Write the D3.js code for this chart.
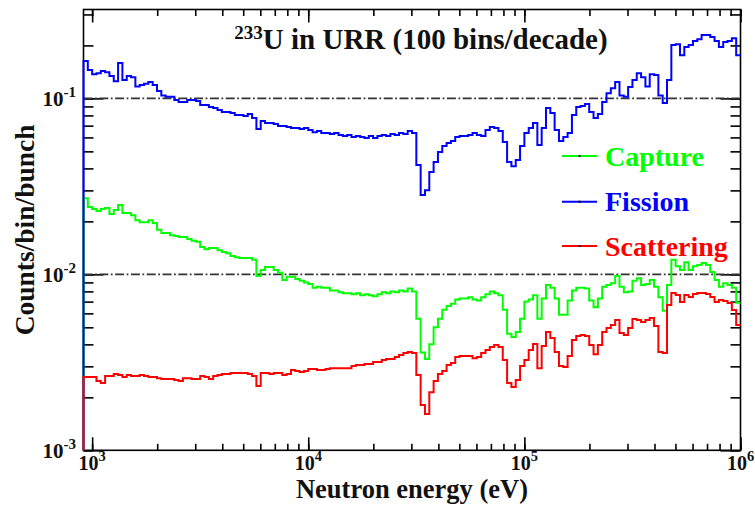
<!DOCTYPE html>
<html>
<head>
<meta charset="utf-8">
<script src="https://cdn.jsdelivr.net/npm/d3@7"></script>
<style>
  body { margin: 0; background: #fff; }
  text { font-family: "Liberation Serif", "Times New Roman", serif; font-weight: bold; }
</style>
</head>
<body>
<svg id="chart" width="755" height="505"></svg>
<script>
// binning: histograms start at 10^2.96 eV, 50 bins per decade up to 1 MeV
var LOG_START = 2.96;
var BINS_PER_DECADE = 50;

// counts/bin/bunch, one value per bin
var fission = [
  0.163, 0.145, 0.137, 0.139, 0.143, 0.141, 0.134, 0.125, 0.159, 0.127,
  0.134, 0.132, 0.117, 0.119, 0.121, 0.124, 0.119, 0.110, 0.104, 0.102,
  0.102, 0.098, 0.0953, 0.0953, 0.098, 0.098, 0.0965, 0.0916, 0.0916, 0.0892,
  0.0881, 0.0858, 0.0836, 0.0836, 0.0825, 0.0804, 0.0804, 0.0793, 0.0814, 0.0773,
  0.0669, 0.0743, 0.0724, 0.0724, 0.0715, 0.0696, 0.0696, 0.0687, 0.0678, 0.0678,
  0.0669, 0.0678, 0.0661, 0.0643, 0.0652, 0.0635, 0.0635, 0.0627, 0.0635, 0.0619,
  0.0611, 0.0619, 0.0603, 0.0611, 0.0603, 0.0595, 0.0611, 0.0595, 0.0611, 0.0619,
  0.0611, 0.0627, 0.0619, 0.0635, 0.0627, 0.0652, 0.0635, 0.0418, 0.0282, 0.0301,
  0.0381, 0.0435, 0.0495, 0.0536, 0.0557, 0.0572, 0.0603, 0.0611, 0.0611, 0.0619,
  0.0635, 0.0619, 0.0611, 0.0661, 0.0687, 0.0678, 0.0652, 0.0565, 0.0435, 0.0412,
  0.0446, 0.0536, 0.0635, 0.0678, 0.0724, 0.0543, 0.0678, 0.0881, 0.0825, 0.0661,
  0.0572, 0.0603, 0.0635, 0.0804, 0.0892, 0.0904, 0.0928, 0.0836, 0.0773, 0.0814,
  0.0953, 0.107, 0.114, 0.124, 0.104, 0.102, 0.116, 0.127, 0.139, 0.132,
  0.117, 0.137, 0.136, 0.104, 0.094, 0.127, 0.201, 0.203, 0.176, 0.196,
  0.201, 0.212, 0.217, 0.229, 0.229, 0.223, 0.212, 0.196, 0.209, 0.212,
  0.220, 0.176
];

var capture = [
  0.0271, 0.0241, 0.0235, 0.0229, 0.0235, 0.0238, 0.0220, 0.0232, 0.0248, 0.0223,
  0.0223, 0.0217, 0.0203, 0.0198, 0.0198, 0.0203, 0.0196, 0.0179, 0.0172, 0.0172,
  0.0167, 0.0165, 0.0163, 0.0163, 0.0159, 0.0155, 0.0153, 0.0143, 0.0139, 0.0141,
  0.0141, 0.0137, 0.0134, 0.0132, 0.0127, 0.0125, 0.0124, 0.0124, 0.0124, 0.0121,
  0.0098, 0.0106, 0.0110, 0.0110, 0.0106, 0.0102, 0.0093, 0.0097, 0.0097, 0.0094,
  0.0092, 0.0090, 0.0088, 0.0084, 0.0085, 0.0084, 0.0084, 0.0081, 0.0081, 0.0079,
  0.0078, 0.0078, 0.0077, 0.0078, 0.0076, 0.0077, 0.0076, 0.0075, 0.0077, 0.0079,
  0.0078, 0.0080, 0.0079, 0.0081, 0.0080, 0.0083, 0.0080, 0.0056, 0.0036, 0.0033,
  0.0040, 0.0050, 0.0056, 0.0063, 0.0066, 0.0068, 0.0072, 0.0073, 0.0073, 0.0074,
  0.0072, 0.0071, 0.0074, 0.0077, 0.0080, 0.0078, 0.0076, 0.0063, 0.0046, 0.0044,
  0.0047, 0.0056, 0.0070, 0.0072, 0.0076, 0.0056, 0.0073, 0.0087, 0.0084, 0.0073,
  0.0059, 0.0059, 0.0071, 0.0081, 0.0084, 0.0084, 0.0083, 0.0071, 0.0065, 0.0073,
  0.0085, 0.0087, 0.0089, 0.0098, 0.0085, 0.0079, 0.0080, 0.0092, 0.0095, 0.0087,
  0.0088, 0.0093, 0.0085, 0.0074, 0.0062, 0.0087, 0.0121, 0.0111, 0.0106, 0.0117,
  0.0106, 0.0111, 0.0113, 0.0116, 0.0113, 0.0103, 0.0093, 0.0085, 0.0089, 0.0087,
  0.0084, 0.0069
];

var scattering = [
  0.00261, 0.00261, 0.00261, 0.00248, 0.00241, 0.00264, 0.00264, 0.00271, 0.00268, 0.00261,
  0.00268, 0.00264, 0.00264, 0.00268, 0.00264, 0.00261, 0.00261, 0.00257, 0.00254, 0.00254,
  0.00254, 0.00251, 0.00248, 0.00257, 0.00257, 0.00254, 0.00254, 0.00264, 0.00261, 0.00254,
  0.00264, 0.00268, 0.00271, 0.00271, 0.00275, 0.00275, 0.00275, 0.00275, 0.00271, 0.00264,
  0.00232, 0.00275, 0.00275, 0.00271, 0.00275, 0.00275, 0.00268, 0.00271, 0.00286, 0.00282,
  0.00279, 0.00282, 0.00290, 0.00290, 0.00286, 0.00286, 0.00290, 0.00293, 0.00293, 0.00293,
  0.00293, 0.00293, 0.00301, 0.00305, 0.00305, 0.00309, 0.00309, 0.00318, 0.00318, 0.00326,
  0.00330, 0.00330, 0.00339, 0.00348, 0.00357, 0.00362, 0.00357, 0.00268, 0.00181, 0.00161,
  0.00214, 0.00248, 0.00271, 0.00282, 0.00305, 0.00313, 0.00339, 0.00343, 0.00343, 0.00343,
  0.00334, 0.00339, 0.00357, 0.00371, 0.00386, 0.00397, 0.00386, 0.00326, 0.00241, 0.00229,
  0.00251, 0.00301, 0.00326, 0.00371, 0.00402, 0.00293, 0.00391, 0.00470, 0.00435, 0.00362,
  0.00301, 0.00297, 0.00343, 0.00423, 0.00446, 0.00452, 0.00446, 0.00397, 0.00352, 0.00397,
  0.00470, 0.00495, 0.00515, 0.00550, 0.00464, 0.00452, 0.00495, 0.00557, 0.00550, 0.00536,
  0.00550, 0.00565, 0.00508, 0.00362, 0.00357, 0.00669, 0.00783, 0.00763, 0.00696, 0.00763,
  0.00743, 0.00773, 0.00783, 0.00783, 0.00773, 0.00743, 0.00696, 0.00715, 0.00705, 0.00687,
  0.00627, 0.00515
];

// decade labels on each axis (exponents)
var xExponents = [3, 4, 5, 6];
var yExponents = [-3, -2, -1];
// horizontal reference lines
var refLines = [0.1, 0.01];

// drawing order as in the picture: capture, fission, scattering on top
var series = [
  { name : 'Capture',    values : capture,    color : '#00ff00' },
  { name : 'Fission',    values : fission,    color : '#0000ff' },
  { name : 'Scattering', values : scattering, color : '#ff0000' }
];

var PLOT = { left : 83.5, right : 740.5, top : 9.5, bottom : 450.3 };

var svg = d3.select('#chart');

var edges = d3.range(fission.length + 1).map(function(i) {
  return Math.pow(10, LOG_START + i / BINS_PER_DECADE);
});

var x = d3.scaleLog()
  .domain([edges[0], 1e6])
  .range([PLOT.left, PLOT.right]);

var y = d3.scaleLog()
  .domain([1e-3, 0.32])
  .range([PLOT.bottom, PLOT.top]);

// tick values: all 1..9 x 10^k inside the domain, and the decades
var minorX = x.ticks().filter(function(v) { return v >= edges[0]; });
var majorX = xExponents.map(function(e) { return Math.pow(10, e); });
var minorY = y.ticks();
var majorY = yExponents.map(function(e) { return Math.pow(10, e); });

// frame
svg.append('rect')
  .attr('x', PLOT.left).attr('y', PLOT.top)
  .attr('width', PLOT.right - PLOT.left)
  .attr('height', PLOT.bottom - PLOT.top)
  .attr('fill', 'none')
  .attr('stroke', '#000')
  .attr('stroke-width', 1.6);

// ticks on all four sides, pointing inward
function tickAxis(axis, tx, ty) {
  var g = svg.append('g')
    .attr('transform', 'translate(' + tx + ',' + ty + ')')
    .call(axis);
  g.select('.domain').remove();
  g.selectAll('.tick line').attr('stroke', '#000').attr('stroke-width', 1.6);
  g.selectAll('.tick text').remove();
}

[[minorX, 6.5], [majorX, 13]].forEach(function(t) {
  tickAxis(d3.axisBottom(x).tickValues(t[0]).tickSize(-t[1]), 0, PLOT.bottom);
  tickAxis(d3.axisTop(x).tickValues(t[0]).tickSize(-t[1]), 0, PLOT.top);
});
[[minorY, 10], [majorY, 20]].forEach(function(t) {
  tickAxis(d3.axisLeft(y).tickValues(t[0]).tickSize(-t[1]), PLOT.left, 0);
  tickAxis(d3.axisRight(y).tickValues(t[0]).tickSize(-t[1]), PLOT.right, 0);
});

// dash-dot reference lines at 1e-1 and 1e-2
svg.selectAll('line.ref')
  .data(refLines)
  .enter()
  .append('line')
  .attr('class', 'ref')
  .attr('x1', PLOT.left).attr('x2', PLOT.right)
  .attr('y1', function(d) { return y(d); })
  .attr('y2', function(d) { return y(d); })
  .attr('stroke', '#333')
  .attr('stroke-width', 1.6)
  .attr('stroke-dasharray', '9,2.5,1.8,2.5');

// histograms drawn as steps, rising from the bottom of the frame at the first edge
var stepLine = d3.line()
  .x(function(d) { return d[0]; })
  .y(function(d) { return d[1]; })
  .curve(d3.curveStepAfter);

series.forEach(function(s) {
  var pts = [[x(edges[0]), PLOT.bottom]];
  s.values.forEach(function(v, i) { pts.push([x(edges[i]), y(v)]); });
  pts.push([x(edges[s.values.length]), y(s.values[s.values.length - 1])]);
  svg.append('path')
    .attr('d', stepLine(pts))
    .attr('fill', 'none')
    .attr('stroke', s.color)
    .attr('stroke-width', 2);
});

// x tick labels 10^n
var xLab = svg.selectAll('text.xlab')
  .data(xExponents)
  .enter()
  .append('text')
  .attr('class', 'xlab')
  .attr('x', function(d) { return x(Math.pow(10, d)); })
  .attr('y', 470)
  .attr('text-anchor', 'middle')
  .attr('font-size', 20)
  .attr('fill', '#111');
xLab.append('tspan').text('10');
xLab.append('tspan').attr('dy', -9).attr('font-size', 14.5).text(function(d) { return d; });

// y tick labels 10^-n
var yLab = svg.selectAll('text.ylab')
  .data(yExponents)
  .enter()
  .append('text')
  .attr('class', 'ylab')
  .attr('x', 76)
  .attr('y', function(d) { return y(Math.pow(10, d)) + 8; })
  .attr('text-anchor', 'end')
  .attr('font-size', 21)
  .attr('fill', '#111');
yLab.append('tspan').text('10');
yLab.append('tspan').attr('dy', -9).attr('font-size', 15).text(function(d) { return '-' + Math.abs(d); });

// axis titles
svg.append('text')
  .attr('x', (PLOT.left + PLOT.right) / 2)
  .attr('y', 498)
  .attr('text-anchor', 'middle')
  .attr('font-size', 26.5)
  .attr('fill', '#111')
  .text('Neutron energy (eV)');

svg.append('text')
  .attr('transform', 'translate(34,' + ((PLOT.top + PLOT.bottom) / 2) + ') rotate(-90)')
  .attr('text-anchor', 'middle')
  .attr('font-size', 27.5)
  .attr('fill', '#111')
  .text('Counts/bin/bunch');

// title
var title = svg.append('text')
  .attr('x', 421)
  .attr('y', 49)
  .attr('text-anchor', 'middle')
  .attr('font-size', 29)
  .attr('fill', '#111');
title.append('tspan').attr('font-size', 19).attr('dy', -10).text('233');
title.append('tspan').attr('dy', 10).text('U in URR (100 bins/decade)');

// legend
var legendY = [156, 201.7, 246];
var legendOrder = ['Capture', 'Fission', 'Scattering'];
var leg = svg.selectAll('g.leg')
  .data(legendOrder.map(function(n) { return series.filter(function(s) { return s.name === n; })[0]; }))
  .enter()
  .append('g')
  .attr('class', 'leg')
  .attr('transform', function(d, i) { return 'translate(0,' + legendY[i] + ')'; });
leg.append('line')
  .attr('x1', 562).attr('x2', 597)
  .attr('stroke', function(d) { return d.color; })
  .attr('stroke-width', 2);
leg.append('rect')
  .attr('x', 578.5).attr('y', -1).attr('width', 2).attr('height', 2)
  .attr('fill', '#000');
leg.append('text')
  .attr('x', 605)
  .attr('y', 9.5)
  .attr('font-size', 28)
  .attr('fill', function(d) { return d.color; })
  .text(function(d) { return d.name; });
</script>
</body>
</html>
